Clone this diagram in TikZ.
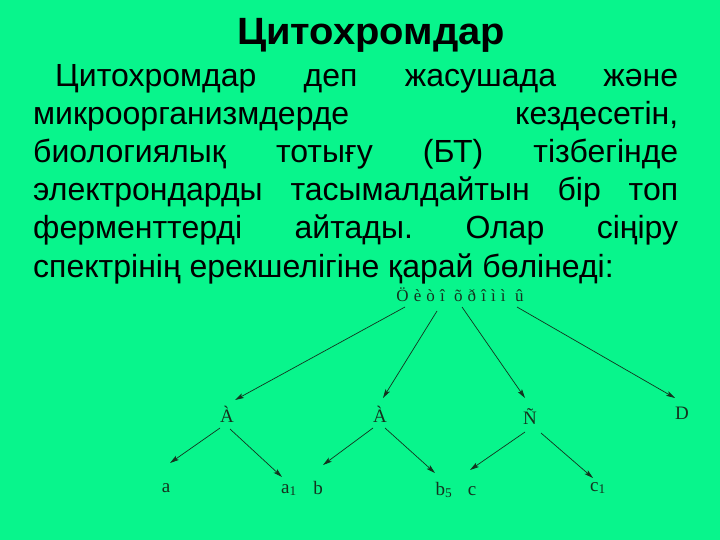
\documentclass[tikz,border=0pt]{standalone}
\usepackage{fontspec}
\setmainfont{Liberation Sans}
\newfontfamily\lblfont{Liberation Serif}
\newfontfamily\rootfont[LetterSpace=30]{Liberation Serif}
\usetikzlibrary{arrows.meta}
\definecolor{bgcol}{RGB}{8,245,140}
\definecolor{inkcol}{RGB}{20,50,30}
\newcommand{\jline}[2]{\makebox[#1pt][s]{#2}}
\frenchspacing

\begin{document}
\begin{tikzpicture}[x=1pt,y=-1pt,
	body/.style={anchor=base west,inner sep=0pt,font=\fontsize{32}{38}\selectfont},
	lbl/.style={inner sep=0pt,text=inkcol,font=\lblfont\fontsize{19}{22}\selectfont},
	arr/.style={-{Stealth[length=9pt,width=5pt,inset=2pt]},draw=inkcol,line width=0.7pt}]
	\fill[bgcol] (0,0) rectangle (720,540);
	\useasboundingbox (0,0) rectangle (720,540);
	% тақырып
	\node[anchor=base,inner sep=0pt,font=\fontsize{38}{44}\bfseries\selectfont] (T) at (371,45) {\scalebox{1.05}[1]{Цитохромдар}};
	\node[body] (L1) at (55,87) {\jline{623}{Цитохромдар деп жасушада және}};
	\node[body] (L2) at (33,125) {\jline{645}{микроорганизмдерде кездесетін,}};
	\node[body] (L3) at (33,163) {\jline{645}{биологиялық тотығу (БТ) тізбегінде}};
	\node[body] (L4) at (33,201) {\jline{645}{электрондарды тасымалдайтын бір топ}};
	\node[body] (L5) at (33,239) {\jline{645}{ферменттерді айтады. Олар сіңіру}};
	\node[body] (L6) at (33,277) {спектрінің ерекшелігіне қарай бөлінеді:};
	% схема
	\node[inner sep=0pt,text=inkcol,font=\rootfont\fontsize{17}{19}\selectfont] (C0) at (460,295) {Öèòî õðîìì û};
	\node[lbl] (A1) at (227,414) {À};
	\node[lbl] (A2) at (380,414) {À};
	\node[lbl] (S) at (530,417) {Ñ};
	\node[lbl] (D) at (682,413) {D};
	\node[lbl] (a) at (166,488) {a};
	\node[lbl] (a1) at (289,490) {a\textsubscript{1}};
	\node[lbl] (b) at (318,488) {b};
	\node[lbl] (b5) at (444,490) {b\textsubscript{5}};
	\node[lbl] (c) at (472,491) {c};
	\node[lbl] (c1) at (598,488) {c\textsubscript{1}};
	\draw[arr] ([shift={(-55,12)}]C0.center) -- ([shift={(8,-14)}]A1.center);
	\draw[arr] ([shift={(-23,16)}]C0.center) -- ([shift={(3,-16)}]A2.center);
	\draw[arr] ([shift={(2,12)}]C0.center) -- ([shift={(-5,-19)}]S.center);
	\draw[arr] ([shift={(57,12)}]C0.center) -- ([shift={(-7,-15)}]D.center);
	\draw[arr] ([shift={(-7,14)}]A1.center) -- ([shift={(4,-25)}]a.center);
	\draw[arr] ([shift={(3,15)}]A1.center) -- ([shift={(-7,-13)}]a1.center);
	\draw[arr] ([shift={(-7,14)}]A2.center) -- ([shift={(5,-23)}]b.center);
	\draw[arr] ([shift={(5,14)}]A2.center) -- ([shift={(-9,-17)}]b5.center);
	\draw[arr] ([shift={(-5,15)}]S.center) -- ([shift={(-2,-21)}]c.center);
	\draw[arr] ([shift={(11,16)}]S.center) -- ([shift={(-5,-10)}]c1.center);
\end{tikzpicture}
\end{document}
